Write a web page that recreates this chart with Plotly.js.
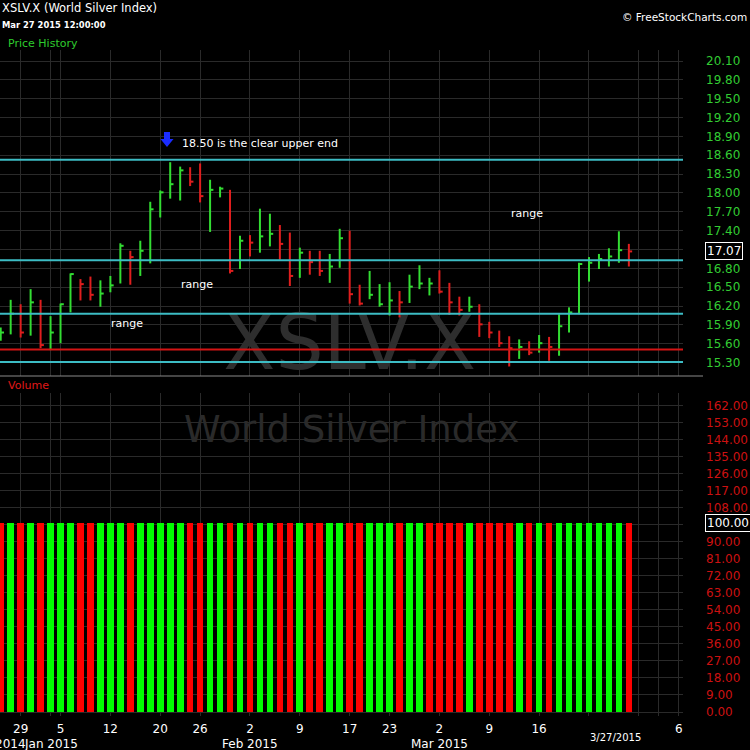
<!DOCTYPE html>
<html><head><meta charset="utf-8">
<script src="https://cdn.plot.ly/plotly-3.0.1.min.js"></script>
<style>html,body{margin:0;padding:0;background:#000;}#chart{width:750px;height:750px;}</style>
</head><body><div id="chart"></div>
<script>
// ---- data ----
const dates = ['2014-12-24','2014-12-26','2014-12-29','2014-12-30','2014-12-31','2015-01-02','2015-01-05','2015-01-06','2015-01-07','2015-01-08','2015-01-09','2015-01-12','2015-01-13','2015-01-14','2015-01-15','2015-01-16','2015-01-20','2015-01-21','2015-01-22','2015-01-23','2015-01-26','2015-01-27','2015-01-28','2015-01-29','2015-01-30','2015-02-02','2015-02-03','2015-02-04','2015-02-05','2015-02-06','2015-02-09','2015-02-10','2015-02-11','2015-02-12','2015-02-13','2015-02-17','2015-02-18','2015-02-19','2015-02-20','2015-02-23','2015-02-24','2015-02-25','2015-02-26','2015-02-27','2015-03-02','2015-03-03','2015-03-04','2015-03-05','2015-03-06','2015-03-09','2015-03-10','2015-03-11','2015-03-12','2015-03-13','2015-03-16','2015-03-17','2015-03-18','2015-03-19','2015-03-20','2015-03-23','2015-03-24','2015-03-25','2015-03-26','2015-03-27'];
const futureDates = ['2015-03-30','2015-03-31','2015-04-01','2015-04-02','2015-04-06'];
const highs = [15.86,16.30,16.23,16.47,16.30,16.04,16.24,16.72,16.63,16.67,
  16.61,16.68,17.20,17.08,17.24,17.86,18.04,18.49,18.42,18.41,
  18.47,18.21,18.10,18.05,17.32,17.33,17.75,17.67,17.49,17.37,
  17.13,17.08,17.08,17.03,17.43,17.40,16.54,16.76,16.55,16.58,
  16.44,16.70,16.85,16.65,16.77,16.57,16.35,16.35,16.23,15.95,
  15.81,15.72,15.67,15.64,15.74,15.71,16.07,16.18,16.89,16.98,
  17.03,17.12,17.39,17.19];
const lows = [15.65,15.75,15.70,15.73,15.53,15.50,15.61,16.10,16.29,16.29,
  16.19,16.42,16.56,16.54,16.68,16.88,17.61,17.91,17.88,18.11,
  17.85,17.38,17.93,16.72,16.79,16.99,17.05,17.15,16.94,16.52,
  16.65,16.70,16.68,16.57,16.81,16.24,16.21,16.31,16.19,16.05,
  16.02,16.25,16.47,16.37,16.40,16.06,16.05,16.11,15.71,15.69,
  15.55,15.24,15.36,15.42,15.46,15.33,15.41,15.78,16.07,16.59,
  16.79,16.83,16.89,16.83];
const closes = [15.78,16.08,15.78,16.26,15.58,15.78,16.23,16.71,16.55,16.38,
  16.40,16.53,17.16,16.98,17.08,17.74,18.01,18.14,18.36,18.18,
  17.95,18.05,18.07,16.76,17.24,17.21,17.31,17.35,17.19,16.68,
  17.05,16.90,16.76,16.83,17.28,16.39,16.24,16.38,16.23,16.29,
  16.26,16.51,16.56,16.56,16.43,16.26,16.14,16.19,15.91,15.78,
  15.61,15.53,15.55,15.46,15.61,15.55,15.88,16.10,16.87,16.89,
  16.95,16.99,17.09,17.07];
const priceUp = [1,1,0,1,0,1,1,1,0,0, 1,1,1,0,1,1,1,1,1,0, 0,1,1,0,1,0,1,1,0,0,
  1,0,0,1,1,0,0,1,1,1, 0,1,1,1,0,0,0,1,0,0, 0,0,1,0,1,0,1,1,1,1, 1,1,1,0];
const volumes = [100,100,100,100,100,100,100,100,100,100, 100,100,100,100,100,100,100,100,100,100,
  100,100,100,100,100,100,100,100,100,100, 100,100,100,100,100,100,100,100,100,100,
  100,100,100,100,100,100,100,100,100,100, 100,100,100,100,100,100,100,100,100,100, 100,100,100,100];
const volumeUp = [0,1,0,1,0,1,1,1,0,0, 1,1,1,0,1,1,1,1,1,0, 0,1,1,0,1,0,1,1,0,0,
  1,0,0,1,1,0,0,1,1,1, 0,1,1,0,0,0,0,1,0,0, 0,0,1,0,1,0,1,1,1,1, 1,1,1,0];
const cyanLevels = [18.53, 16.93, 16.08, 15.31];
const redLevels = [15.51];
const lastClose = 17.07;
const lastVolume = 100;
const priceTicks = [15.30,15.60,15.90,16.20,16.50,16.80,17.10,17.40,17.70,18.00,18.30,18.60,18.90,19.20,19.50,19.80,20.10];
const volumeTicks = [0,9,18,27,36,45,54,63,72,81,90,99,108,117,126,135,144,153,162];
const tickDates = ['2014-12-29','2015-01-02','2015-01-05','2015-01-12','2015-01-20','2015-01-26','2015-02-02','2015-02-09','2015-02-17','2015-02-23','2015-03-02','2015-03-09','2015-03-16','2015-03-23','2015-03-30','2015-04-01','2015-04-06'];
const tickLabels = ['29','','5','12','20','26','2','9','17','23','2','9','16','','','','6'];
const monthDates = ['2015-01-02','2015-02-02','2015-03-02'];
const monthLabels = ['Jan 2015','Feb 2015','Mar 2015'];
const rangeNotes = [{x:52.8, y:17.67}, {x:19.7, y:16.54}, {x:12.7, y:15.93}];

// ---- helpers ----
const allDays = dates.concat(futureDates);
const xi = d => allDays.indexOf(d);
const W = 750, H = 750, PR = 683;
const px = x => x / PR;
const py = y => 1 - y / H;
const FONT = 'DejaVu Sans';
const GREEN = '#33dd33', RED = '#e01e1e';

function hlc(flag){
  const xs = [], ys = [];
  dates.forEach((d,i) => {
    if (priceUp[i] !== flag) return;
    const x = xi(d);
    xs.push(x, x, null, x, x + 0.33, null);
    ys.push(lows[i], highs[i], null, closes[i], closes[i], null);
  });
  return {xs, ys};
}
const up = hlc(1), dn = hlc(0);
const xIdx = dates.map(xi);

const traces = [
  {type:'scatter', mode:'text', x:[35], y:[15.5], text:['XSLV.X'], xaxis:'x', yaxis:'y',
   textfont:{family:FONT, size:76, color:'#2e2e2e'}, cliponaxis:false, hoverinfo:'skip', showlegend:false},
  {type:'scatter', mode:'text', x:[35.2], y:[148], text:['World Silver Index'], xaxis:'x2', yaxis:'y2',
   textfont:{family:FONT, size:37, color:'#2a2a2a'}, cliponaxis:false, hoverinfo:'skip', showlegend:false},
  {type:'bar', x:xIdx, y:volumes, xaxis:'x2', yaxis:'y2', width:0.67,
   marker:{color:volumeUp.map(u => u ? '#00ff00' : '#ff0000'), line:{width:0}}, showlegend:false},
  {type:'scatter', mode:'lines', x:up.xs, y:up.ys, xaxis:'x', yaxis:'y', line:{color:GREEN, width:2}, connectgaps:false, showlegend:false},
  {type:'scatter', mode:'lines', x:dn.xs, y:dn.ys, xaxis:'x', yaxis:'y', line:{color:RED, width:2}, connectgaps:false, showlegend:false}
];

const shapes = [];
cyanLevels.forEach(v => shapes.push({type:'line', xref:'paper', yref:'y', x0:0, x1:1, y0:v, y1:v, line:{color:'#3cbcc4', width:2}, layer:'above'}));
redLevels.forEach(v => shapes.push({type:'line', xref:'paper', yref:'y', x0:0, x1:1, y0:v, y1:v, line:{color:'#d41414', width:2}, layer:'above'}));
shapes.push({type:'line', xref:'paper', yref:'paper', x0:0, x1:px(703), y0:py(376), y1:py(376), line:{color:'#8a8a8a', width:1}});
// blue down arrow (decoration)
const arrowPts = [[164,132],[170,132],[170,139],[173.5,139],[167,147],[160.5,139],[164,139]];
shapes.push({type:'path', xref:'paper', yref:'paper', layer:'above',
  path:'M' + arrowPts.map(p => px(p[0]) + ',' + py(p[1])).join(' L') + ' Z',
  fillcolor:'#1a2cff', line:{width:0}});

const ann = [];
const txt = (text, x, y, size, color, opts) => ann.push(Object.assign({text, xref:'paper', yref:'paper', x:px(x), y:py(y), xanchor:'left', yanchor:'middle', showarrow:false, font:{family:FONT, size, color}}, opts||{}));
txt('XSLV.X (World Silver Index)', 0, 8, 11.5, '#ffffff');
txt('<b>Mar 27 2015 12:00:00</b>', 0, 25, 8.4, '#ffffff');
txt('Price History', 6, 43, 11, '#2ecc2e');
txt('© FreeStockCharts.com', 749, 17, 10.5, '#ffffff', {xanchor:'right'});
txt('Volume', 6, 385, 11, '#e01818');
txt('18.50 is the clear upper end', 180, 143, 11, '#ffffff');
txt('3/27/2015', 615, 737, 10, '#ffffff', {xanchor:'center'});
rangeNotes.forEach(r => ann.push({text:'range', xref:'x', yref:'y', x:r.x, y:r.y, xanchor:'center', yanchor:'middle', showarrow:false, font:{family:FONT, size:11, color:'#ffffff'}}));
monthDates.forEach((d,k) => ann.push({text:monthLabels[k], xref:'x2', yref:'paper', x:xi(d), y:py(744), xanchor:'center', yanchor:'middle', showarrow:false, font:{family:FONT, size:12, color:'#ffffff'}}));
ann.push({text:'Dec 2014', xref:'x2', yref:'paper', x:xi(monthDates[0]), xshift:-23, y:py(744), xanchor:'right', yanchor:'middle', showarrow:false, font:{family:FONT, size:12, color:'#ffffff'}});
// last value boxes
ann.push({text:lastClose.toFixed(2), xref:'paper', yref:'y', x:px(705), y:lastClose, xanchor:'left', yanchor:'middle', showarrow:false,
  font:{family:FONT, size:12, color:'#ffffff'}, bgcolor:'#000000', bordercolor:'#ffffff', borderwidth:1, borderpad:1});
ann.push({text:lastVolume.toFixed(2), xref:'paper', yref:'y2', x:px(705), y:lastVolume, xanchor:'left', yanchor:'middle', showarrow:false,
  font:{family:FONT, size:12, color:'#ffffff'}, bgcolor:'#000000', bordercolor:'#ffffff', borderwidth:1, borderpad:1});

// hide the tick label that sits under each last-value box
const near = (a, b, tol) => Math.abs(a - b) < tol;
const priceTickText = priceTicks.map(v => near(v, lastClose, 0.15) ? '' : v.toFixed(2));
const volumeTickText = volumeTicks.map(v => near(v, lastVolume, 4.5) ? '' : v.toFixed(2));

const xr = [-0.07, 68.43];
const tickIdx = tickDates.map(xi);
const layout = {
  width:W, height:H, margin:{l:0, r:W-PR, t:0, b:0, pad:0},
  paper_bgcolor:'#000000', plot_bgcolor:'#000000', showlegend:false, bargap:0,
  font:{family:FONT, color:'#ffffff'},
  xaxis:{domain:[0,1], anchor:'y', range:xr, tickvals:tickIdx, showticklabels:false, showgrid:true, gridcolor:'#2a2a2a', gridwidth:1, zeroline:false, showline:false, ticks:''},
  xaxis2:{domain:[0,1], anchor:'y2', matches:'x', range:xr, tickvals:tickIdx, ticktext:tickLabels, showgrid:true, gridcolor:'#2a2a2a', gridwidth:1, zeroline:false, showline:false, ticks:'', ticklabelstandoff:4,
    tickfont:{family:FONT, size:12, color:'#ffffff'}},
  yaxis:{domain:[py(376), py(50)], anchor:'x', side:'right', range:[15.088, 20.275], tickvals:priceTicks, ticktext:priceTickText,
    showgrid:true, gridcolor:'#2a2a2a', zeroline:false, showline:false, ticks:'', ticklabelstandoff:22,
    tickfont:{family:FONT, size:12, color:'#33cc33'}},
  yaxis2:{domain:[py(716), py(393)], anchor:'x2', side:'right', range:[-2.12, 168.87], tickvals:volumeTicks, ticktext:volumeTickText,
    showgrid:true, gridcolor:'#2a2a2a', zeroline:false, showline:false, ticks:'', ticklabelstandoff:22,
    tickfont:{family:FONT, size:12, color:'#cc1111'}},
  shapes, annotations:ann
};
Plotly.newPlot('chart', traces, layout, {displayModeBar:false, staticPlot:true});
</script></body></html>
